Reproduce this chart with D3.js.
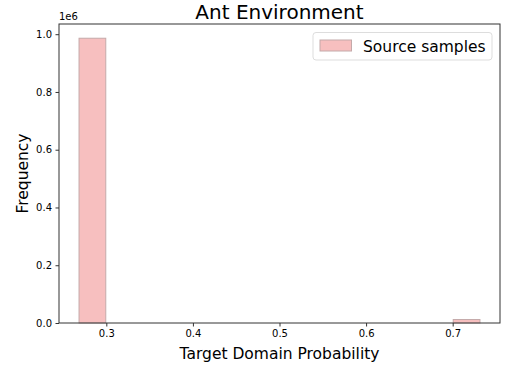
<!DOCTYPE html>
<html>
<head>
<meta charset="utf-8">
<script src="https://cdn.jsdelivr.net/npm/d3@7"></script>
<style>
  body { margin: 0; background: #fff; }
  text { font-family: "DejaVu Sans", sans-serif; fill: #000; }
</style>
</head>
<body>
<script>
// histogram of target domain probability, 15 bins
var binEdges = d3.range(16).map(function(i) { return 0.2685 + i * (0.7315 - 0.2685) / 15; });
var binCounts = [986000, 0, 0, 0, 0, 0, 0, 0, 0, 0, 0, 0, 0, 0, 12000];
var xTicks = [0.3, 0.4, 0.5, 0.6, 0.7];
var yTicks = [0, 0.2e6, 0.4e6, 0.6e6, 0.8e6, 1.0e6];

var svg_width = 505, svg_height = 368;
var margin = {top: 24, right: 5, bottom: 45, left: 59};
var width = svg_width - margin.left - margin.right,
    height = svg_height - margin.top - margin.bottom;

var svg = d3.select("body").append("svg")
    .attr("width", svg_width)
    .attr("height", svg_height);
var g = svg.append("g").attr("transform", "translate(" + margin.left + "," + margin.top + ")");

//matplotlib style 5% margins on x, 5% headroom on y
var span = binEdges[binEdges.length - 1] - binEdges[0];
var x = d3.scaleLinear()
    .domain([binEdges[0] - 0.05 * span, binEdges[binEdges.length - 1] + 0.05 * span])
    .range([0, width]);
var y = d3.scaleLinear()
    .domain([0, d3.max(binCounts) * 1.05])
    .range([height, 0]);

var bins = binCounts.map(function(c, i) { return {x0: binEdges[i], x1: binEdges[i + 1], n: c}; });

g.selectAll(".bar")
    .data(bins.filter(function(d) { return d.n > 0; }))
    .enter().append("rect")
    .attr("class", "bar")
    .attr("x", function(d) { return x(d.x0); })
    .attr("width", function(d) { return x(d.x1) - x(d.x0); })
    .attr("y", function(d) { return y(d.n); })
    .attr("height", function(d) { return height - y(d.n); })
    .attr("fill", "#f7bfbf")
    .attr("stroke", "#c4a9a9")
    .attr("stroke-width", 1);

//axes
var xAxis = g.append("g")
    .attr("transform", "translate(0," + height + ")")
    .call(d3.axisBottom(x).tickValues(xTicks).tickFormat(d3.format(".1f")).tickSizeOuter(0).tickSize(3.5).tickPadding(3.5));
var yAxis = g.append("g")
    .call(d3.axisLeft(y).tickValues(yTicks).tickFormat(function(d) { return (d / 1e6).toFixed(1); }).tickSizeOuter(0).tickSize(3.5).tickPadding(3.5));

[xAxis, yAxis].forEach(function(a) {
  a.selectAll("text").style("font-family", "DejaVu Sans").style("font-size", "10px").attr("fill", "#222");
  a.selectAll("line").attr("stroke", "#333");
  a.select(".domain").remove();
});

//frame
g.append("rect")
    .attr("width", width)
    .attr("height", height)
    .attr("fill", "none")
    .attr("stroke", "#333")
    .attr("stroke-width", 1);

//offset text
g.append("text")
    .attr("x", 0)
    .attr("y", -4)
    .style("font-size", "10px")
    .attr("fill", "#222")
    .text("1e6");

//title and labels
svg.append("text")
    .attr("x", margin.left + width / 2)
    .attr("y", 19)
    .attr("text-anchor", "middle")
    .style("font-size", "20px")
    .text("Ant Environment");

svg.append("text")
    .attr("x", margin.left + width / 2)
    .attr("y", 359)
    .attr("text-anchor", "middle")
    .style("font-size", "15.5px")
    .text("Target Domain Probability");

svg.append("text")
    .attr("transform", "translate(28," + (margin.top + height / 2) + ") rotate(-90)")
    .attr("text-anchor", "middle")
    .style("font-size", "15.5px")
    .text("Frequency");

//legend
var lg = g.append("g").attr("transform", "translate(" + (width - 187) + ",8.5)");
lg.append("rect")
    .attr("width", 179)
    .attr("height", 27.5)
    .attr("rx", 3)
    .attr("fill", "#fff")
    .attr("fill-opacity", 0.8)
    .attr("stroke", "#ddd");
lg.append("rect")
    .attr("x", 7)
    .attr("y", 7.5)
    .attr("width", 31.5)
    .attr("height", 11)
    .attr("fill", "#f7bfbf")
    .attr("stroke", "#c4a9a9");
lg.append("text")
    .attr("x", 50)
    .attr("y", 19)
    .style("font-size", "15.5px")
    .text("Source samples");
</script>
</body>
</html>
